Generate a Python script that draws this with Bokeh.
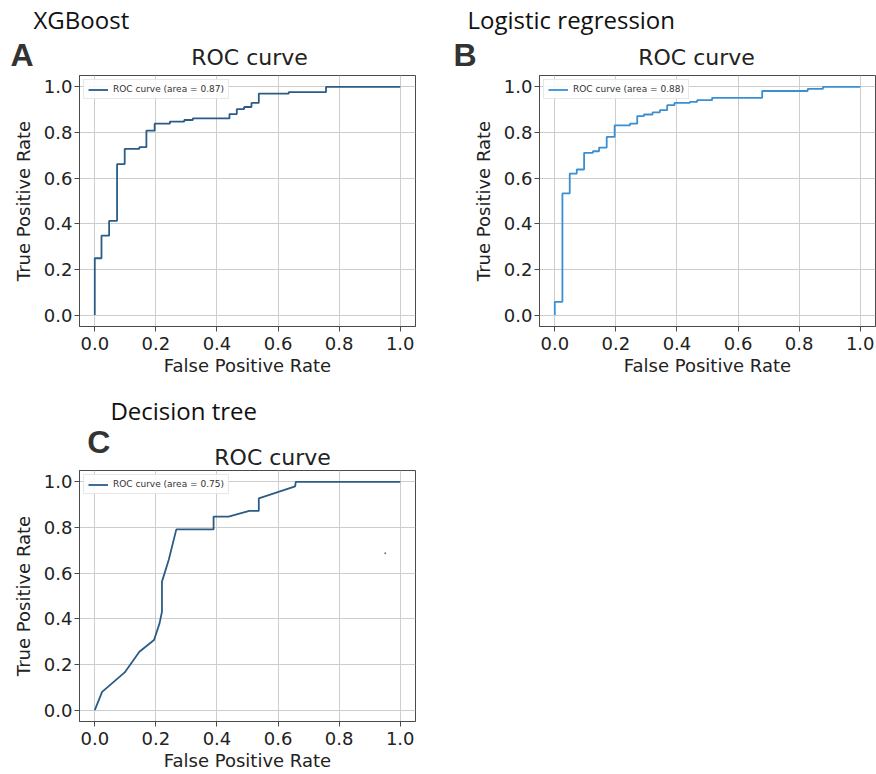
import math
from bokeh.plotting import figure
from bokeh.models import Label, Range1d, FixedTicker, NumeralTickFormatter
from bokeh.layouts import column, row
from bokeh.embed import file_html
from bokeh.resources import INLINE

# ---------------- data ----------------
ticks = [0.0, 0.2, 0.4, 0.6, 0.8, 1.0]

fpr_xgb = [0, 0, 0.022, 0.022, 0.047, 0.047, 0.073, 0.073, 0.098, 0.098, 0.146, 0.146,
           0.169, 0.169, 0.196, 0.196, 0.246, 0.246, 0.293, 0.293, 0.321, 0.321, 0.441, 0.441,
           0.465, 0.465, 0.489, 0.489, 0.513, 0.513, 0.537, 0.537, 0.635, 0.635, 0.757, 0.757, 1.0]
tpr_xgb = [0, 0.249, 0.249, 0.348, 0.348, 0.413, 0.413, 0.662, 0.662, 0.728, 0.728, 0.736,
           0.736, 0.808, 0.808, 0.839, 0.839, 0.848, 0.848, 0.855, 0.855, 0.862, 0.862, 0.881,
           0.881, 0.903, 0.903, 0.912, 0.912, 0.930, 0.930, 0.971, 0.971, 0.977, 0.977, 1.0, 1.0]

fpr_lr = [0, 0, 0.025, 0.025, 0.049, 0.049, 0.072, 0.072, 0.096, 0.096, 0.125, 0.125,
          0.145, 0.145, 0.170, 0.170, 0.196, 0.196, 0.246, 0.246, 0.270, 0.270, 0.292, 0.292,
          0.320, 0.320, 0.344, 0.344, 0.368, 0.368, 0.392, 0.392, 0.442, 0.442, 0.466, 0.466,
          0.515, 0.515, 0.679, 0.679, 0.828, 0.828, 0.878, 0.878, 1.0]
tpr_lr = [0, 0.058, 0.058, 0.533, 0.533, 0.620, 0.620, 0.638, 0.638, 0.711, 0.711, 0.718,
          0.718, 0.734, 0.734, 0.781, 0.781, 0.831, 0.831, 0.839, 0.839, 0.872, 0.872, 0.879,
          0.879, 0.888, 0.888, 0.898, 0.898, 0.920, 0.920, 0.930, 0.930, 0.934, 0.934, 0.942,
          0.942, 0.952, 0.952, 0.982, 0.982, 0.991, 0.991, 1.0, 1.0]

fpr_dt = [0, 0.024, 0.098, 0.146, 0.194, 0.212, 0.220, 0.220, 0.242, 0.267, 0.389, 0.389,
          0.438, 0.506, 0.537, 0.537, 0.656, 0.658, 1.0]
tpr_dt = [0, 0.080, 0.165, 0.256, 0.307, 0.380, 0.431, 0.563, 0.658, 0.792, 0.792, 0.848,
          0.848, 0.873, 0.873, 0.928, 0.980, 1.0, 1.0]

# small stray speck visible in panel C
speck_x = [0.951]
speck_y = [0.687]

legend_xgb = "ROC curve (area = 0.87)"
legend_lr = "ROC curve (area = 0.88)"
legend_dt = "ROC curve (area = 0.75)"

TXT = "#222222"
FRAME = "#4a4a4a"


def panel(fpr, tpr, color, legend_text, borders):
    bl, br, bt, bb = borders
    p = figure(frame_width=336, frame_height=251,
               x_range=Range1d(-0.05, 1.05), y_range=Range1d(-0.05, 1.05),
               output_backend="svg", toolbar_location=None,
               min_border_left=bl, min_border_right=br,
               min_border_top=bt, min_border_bottom=bb)
    p.background_fill_color = "white"
    p.border_fill_color = "white"
    p.outline_line_color = FRAME
    p.outline_line_width = 1

    for ax in (p.xaxis[0], p.yaxis[0]):
        ax.ticker = FixedTicker(ticks=ticks)
        ax.formatter = NumeralTickFormatter(format="0.0")
        ax.axis_line_color = FRAME
        ax.major_tick_line_color = FRAME
        ax.major_tick_out = 5
        ax.major_tick_in = 0
        ax.minor_tick_line_color = None
        ax.major_label_text_font = "DejaVu Sans"
        ax.major_label_text_font_size = "18px"
        ax.major_label_text_color = TXT
        ax.axis_label_text_font = "DejaVu Sans"
        ax.axis_label_text_font_size = "18px"
        ax.axis_label_text_font_style = "normal"
        ax.axis_label_text_color = TXT
    p.xaxis.axis_label = "False Positive Rate"
    p.yaxis.axis_label = "True Positive Rate"
    p.xaxis.major_label_standoff = 5
    p.yaxis.major_label_standoff = 2
    p.xaxis.axis_label_standoff = 2
    p.yaxis.axis_label_standoff = 7

    p.grid.grid_line_color = "#cdcdcd"
    p.grid.grid_line_width = 1

    p.line(fpr, tpr, line_color=color, line_width=1.8, legend_label=legend_text)

    lg = p.legend[0]
    lg.location = "top_left"
    lg.margin = 4
    lg.padding = 4
    lg.spacing = 0
    lg.glyph_width = 20
    lg.glyph_height = 9
    lg.label_height = 9
    lg.label_standoff = 5
    lg.label_text_font = "DejaVu Sans"
    lg.label_text_font_size = "9px"
    lg.label_text_color = "#333333"
    lg.border_line_color = "#d0d0d0"
    lg.background_fill_alpha = 0.85
    return p


def header(w, h, method, m_xy, letter, l_xy, title_xy):
    # a plain canvas (pixel coordinates, y downward) carrying the texts above a panel
    hp = figure(width=w, height=h, x_range=Range1d(0, w), y_range=Range1d(h, 0),
                x_axis_type=None, y_axis_type=None, output_backend="svg",
                toolbar_location=None, min_border=0)
    hp.grid.visible = False
    hp.outline_line_color = None
    hp.background_fill_color = "white"
    hp.border_fill_color = "white"
    hp.add_layout(Label(x=m_xy[0], y=m_xy[1], text=method, text_font="Open Sans",
                        text_font_size="24px", text_color="#111111",
                        text_align="left", text_baseline="alphabetic"))
    hp.add_layout(Label(x=l_xy[0], y=l_xy[1], text=letter, text_font="Liberation Sans",
                        text_font_style="bold", text_font_size="32px", text_color="#333333",
                        text_align="left", text_baseline="alphabetic"))
    hp.add_layout(Label(x=title_xy[0], y=title_xy[1], text="ROC curve", text_font="DejaVu Sans",
                        text_font_size="22px", text_color=TXT,
                        text_align="center", text_baseline="alphabetic"))
    return hp


# figure widths: A = 79 + 336 + 20 = 435 ; B = 104 + 336 + 1 = 441
pA = panel(fpr_xgb, tpr_xgb, "#2a5c86", legend_xgb, (79, 20, 1, 64))
pB = panel(fpr_lr, tpr_lr, "#3a8fd2", legend_lr, (104, 1, 1, 64))
pC = panel(fpr_dt, tpr_dt, "#2a5c86", legend_dt, (79, 20, 1, 52))
pC.scatter(speck_x, speck_y, size=2, color="#777777", line_color=None)

hA = header(435, 74, "XGBoost", (33, 19), "A", (10, 54), (249, 56.5))
hB = header(441, 74, "Logistic regression", (32, 19), "B", (18, 54), (261, 56.5))
hC = header(435, 79, "Decision tree", (40, 20), "C", (10, 51), (250, 67))

layout = column(row(hA, hB), row(pA, pB), hC, pC)

open("out.html", "w").write(file_html(layout, INLINE))
